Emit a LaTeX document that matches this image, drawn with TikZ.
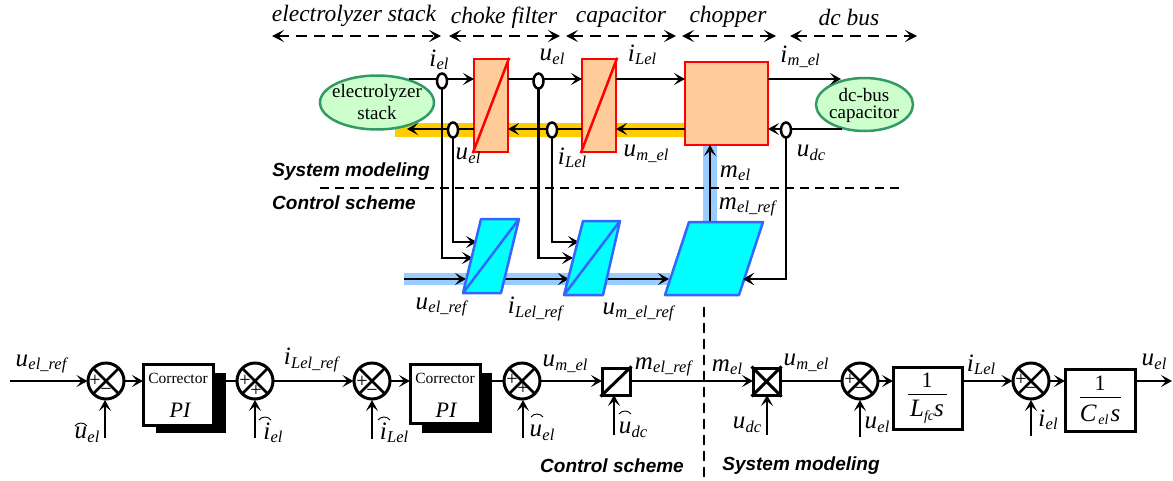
\documentclass[tikz,border=0pt]{standalone}
\usepackage{fontspec}
\setmainfont{Liberation Serif}
\setsansfont{Liberation Sans}
\usetikzlibrary{arrows.meta,shapes.geometric}
\newcommand{\fs}[1]{\fontsize{#1}{#1}\selectfont}
\newcommand{\V}[2]{{\fs{25}\itshape #1\kern0.3pt\raisebox{-3.5pt}{\fs{16.5}#2}}}
\tikzset{
  tip/.style={-{Stealth[length=11pt,width=12pt,inset=5pt]}},
  dtip/.style={{Stealth[length=12pt,width=12pt,inset=5.5pt]}-{Stealth[length=12pt,width=12pt,inset=5.5pt]},dash pattern=on 11pt off 7pt},
  wire/.style={line width=2.5pt,black},
  band/.style={line width=14pt},
  redblk/.style={draw=red,fill=redfill,line width=2.5pt},
  blueblk/.style={draw=blueedge,fill=cyanfill,line width=2.5pt,line join=round},
  greenell/.style={ellipse,draw=greenedge,fill=greenfill,line width=2.5pt,inner sep=0pt},
  greentxt/.style={inner sep=0pt,font=\fs{19}},
  sensor/.style={ellipse,draw=black,fill=white,line width=2.5pt,minimum width=10pt,minimum height=15pt,inner sep=0pt},
  sumnode/.style={circle,draw=black,fill=white,line width=3pt,minimum size=36pt,inner sep=0pt,
    path picture={\draw[line width=2.5pt] (path picture bounding box.north west)--(path picture bounding box.south east)
      (path picture bounding box.north east)--(path picture bounding box.south west);}},
  ctrlbox/.style={draw=black,fill=white,line width=3pt,inner sep=0pt},
  shadowbox/.style={fill=black,draw=none,inner sep=0pt,minimum width=70pt,minimum height=60pt},
  lbl/.style={inner sep=0pt,anchor=center},
  sign/.style={inner sep=0pt,font=\fs{20}},
  titletxt/.style={inner sep=0pt,font=\fs{23.5}\itshape},
  sectxt/.style={inner sep=0pt,font=\fs{19}\sffamily\bfseries\itshape},
}
\definecolor{redfill}{HTML}{FFCC99}
\definecolor{cyanfill}{HTML}{00FFFF}
\definecolor{blueedge}{HTML}{3366FF}
\definecolor{greenfill}{HTML}{CCFFCC}
\definecolor{greenedge}{HTML}{339966}
\definecolor{yband}{HTML}{FFCC00}
\definecolor{bband}{HTML}{99CCFF}
\begin{document}
\begin{tikzpicture}[x=1pt,y=-1pt]
\useasboundingbox (0,0) rectangle (1173,480);
% section titles and extent arrows
\node[titletxt] (t1) at (354,16) {electrolyzer stack};
\node[titletxt] (t2) at (504,18) {choke filter};
\node[titletxt] (t3) at (621,17) {capacitor};
\node[titletxt] (t4) at (728,17) {chopper};
\node[titletxt] (t5) at (849,17) {dc bus};
\foreach \n/\a/\b in {1/272/441,2/449/560,3/566/676,4/682/776,5/790/917}{
  \coordinate (dl\n) at (\a,36); \coordinate (dr\n) at (\b,36);
  \draw[wire,dtip] (dl\n) -- (dr\n);
}
% colour bands
\coordinate (yl) at (395,130); \coordinate (yr) at (685,130);
\draw[band,yband] (yl) -- (yr);
\coordinate (bvb) at (710,222); \coordinate (bvt) at (710,145);
\draw[band,bband] (bvb) -- (bvt);
\coordinate (bl) at (404,279); \coordinate (br) at (670,279);
\draw[line width=12pt,bband] (bl) -- (br);
% separator
\coordinate (sepl) at (320,188); \coordinate (sepr) at (903,188);
\draw[line width=1.8pt,dash pattern=on 9pt off 6pt] (sepl) -- (sepr);
\coordinate (vsept) at (704,307); \coordinate (vsepb) at (704,480);
\draw[line width=2pt,dash pattern=on 10pt off 6pt] (vsept) -- (vsepb);
% coordinates of top row ports
\coordinate (w0) at (409,79);
\coordinate (b1w) at (474,79); \coordinate (b1e) at (508,79);
\coordinate (b2w) at (582,79); \coordinate (b2e) at (616,79);
\coordinate (cw) at (685,79); \coordinate (ce) at (768,79);
\coordinate (de) at (841,79);
\coordinate (lw0) at (407,129);
\coordinate (lb1w) at (474,129); \coordinate (lb1e) at (508,129);
\coordinate (lb2w) at (582,129); \coordinate (lb2e) at (616,129);
\coordinate (lcw) at (685,129); \coordinate (lce) at (768,129);
\coordinate (lde) at (842,129);
% sensors' leads
\coordinate (s1) at (442,81); \coordinate (s2) at (453,130);
\coordinate (s3) at (538.5,81); \coordinate (s4) at (552,130); \coordinate (s5) at (786,130);
\coordinate (p1a) at (473,258); \coordinate (p1b) at (477,242);
\coordinate (p2a) at (573,258); \coordinate (p2b) at (579,242);
\coordinate (p3r) at (743,279);
\draw[wire,tip] (s1) |- (p1a);
\draw[wire,tip] (s2) |- (p1b);
\draw[wire,tip] (s3) |- (p2a);
\draw[wire,tip] (s4) |- (p2b);
\draw[wire,tip] (s5) |- (p3r);
\coordinate (r1) at (466,279); \coordinate (r2a) at (501,279); \coordinate (r2) at (569,279);
\coordinate (r3a) at (603,279); \coordinate (r3) at (669,279); \coordinate (r0) at (404,279);
\draw[wire,tip] (r0) -- (r1);
\draw[wire,tip] (r2a) -- (r2);
\draw[wire,tip] (r3a) -- (r3);
% red blocks
\node[redblk,minimum width=34pt,minimum height=93pt,inner sep=0pt] (blk1) at (491,105.5) {};
\draw[red,line width=2.5pt] (blk1.south west) -- (blk1.north east);
\node[redblk,minimum width=34pt,minimum height=93pt,inner sep=0pt] (blk2) at (599,105.5) {};
\draw[red,line width=2.5pt] (blk2.south west) -- (blk2.north east);
\node[redblk,minimum width=83pt,minimum height=83pt,inner sep=0pt] (chop) at (726.5,103.5) {};
% ellipses
\node[greenell,minimum width=114pt,minimum height=54pt] (es) at (377,102.5) {};
\node[greentxt] (es1) at (377,92.5) {electrolyzer};
\node[greentxt] (es2) at (377,112.5) {stack};
\node[greenell,minimum width=97pt,minimum height=53pt] (dc) at (864.5,104.5) {};
\node[greentxt] (dc1) at (864,94.5) {dc-bus};
\node[greentxt] (dc2) at (864,114) {capacitor};
% connectors of the power row
\draw[wire,tip] (w0) -- (b1w);
\draw[wire,tip] (b1e) -- (b2w);
\draw[wire,tip] (b2e) -- (cw);
\draw[wire,tip] (ce) -- (de);
\draw[wire,tip] (lcw) -- (lb2e);
\draw[wire,tip] (lb2w) -- (lb1e);
\draw[wire,tip] (lb1w) -- (lw0);
\draw[wire,tip] (lde) -- (lce);
\draw[wire,tip] (bvb) -- (bvt);
% sensors
\foreach \s in {1,...,5}{\node[sensor] (sn\s) at (s\s) {};}
% blue blocks
\draw[blueblk] (481,219) -- (519,219) -- (501,293) -- (463,293) -- cycle (463,293) -- (519,219);
\draw[blueblk] (583,221) -- (620,221) -- (603,295) -- (564,295) -- cycle (564,295) -- (620,221);
\draw[blueblk] (689,222) -- (763,222) -- (739,295) -- (665,295) -- cycle;
% re-draw tips over the blue edges
\draw[wire,tip] (s5 |- p3r) -- (p3r);
% top labels
\node[lbl] (l1) at (439,60) {\V{i}{el}};
\node[lbl] (l2) at (552,57) {\V{u}{el}};
\node[lbl] (l3) at (642,55) {\V{i}{Lel}};
\node[lbl] (l4) at (800,57) {\V{i}{m\_el}};
\node[lbl] (l5) at (468,156) {\V{u}{el}};
\node[lbl] (l6) at (572,158) {\V{i}{Lel}};
\node[lbl] (l7) at (646,154) {\V{u}{m\_el}};
\node[lbl] (l8) at (811,153) {\V{u}{dc}};
\node[lbl] (l9) at (735,173) {\V{m}{el}};
\node[lbl] (l10) at (747,207) {\V{m}{el\_ref}};
\node[lbl] (l11) at (441,307) {\V{u}{el\_ref}};
\node[lbl] (l12) at (535,309) {\V{i}{Lel\_ref}};
\node[lbl] (l13) at (638,312) {\V{u}{m\_el\_ref}};
\node[sectxt] (sm1) at (351,172) {System modeling};
\node[sectxt] (cs1) at (344,203) {Control scheme};
% bottom row nodes
\node[shadowbox] (sh1) at (191,403) {};
\node[shadowbox] (sh2) at (457,403) {};
\node[ctrlbox,minimum width=70pt,minimum height=61pt] (cor1) at (178,394.5) {};
\node[ctrlbox,minimum width=70pt,minimum height=59pt] (cor2) at (445.5,394) {};
\node[inner sep=0pt,font=\fs{15.5}] (ct1) at (178,378) {Corrector};
\node[inner sep=0pt,font=\fs{15.5}] (ct2) at (445,378) {Corrector};
\node[inner sep=0pt,font=\fs{22}\itshape] (pi1) at (180,410) {PI};
\node[inner sep=0pt,font=\fs{22}\itshape] (pi2) at (446,410) {PI};
\node[ctrlbox,minimum width=28pt,minimum height=27pt] (conv) at (616,381.5) {};
\draw[line width=3pt] (conv.south west) -- (conv.north east);
\node[ctrlbox,minimum width=27pt,minimum height=27pt] (mult) at (766.5,381.5) {};
\draw[line width=3pt] (mult.south west) -- (mult.north east) (mult.north west) -- (mult.south east);
\node[ctrlbox,minimum width=69pt,minimum height=62pt] (lfc) at (927.5,398) {};
\node[ctrlbox,minimum width=70pt,minimum height=62pt] (cel) at (1100,400) {};
\foreach \n/\x in {1/106,2/255,3/372,4/522,5/860,6/1031}{\coordinate (pos\n) at (\x,381);}
\coordinate (start) at (10,381); \coordinate (end) at (1172,381);
\coordinate (cor1in) at (143,381); \coordinate (cor2in) at (410,381);
\coordinate (m1) at (893,381); \coordinate (m2) at (1065,381);
\coordinate (c1e) at (1135,381);
% signal wires
\coordinate (a1) at (87.5,381); \coordinate (a3) at (353.5,381); \coordinate (a6) at (1012.5,381);
\draw[wire,tip] (start) -- (a1);
\draw[wire,tip] (pos1) -- (cor1in);
\draw[wire] (sh1.east |- pos2) -- (pos2);
\draw[wire,tip] (pos2) -- (a3);
\draw[wire,tip] (pos3) -- (cor2in);
\draw[wire] (sh2.east |- pos4) -- (pos4);
\coordinate (convin) at (602,381); \coordinate (multin) at (753,381);
\draw[wire,tip] (pos4) -- (convin);
\draw[wire,tip] (conv.east |- pos4) -- (multin);
\draw[wire] (mult.east |- pos4) -- (pos5);
\draw[wire,tip] (pos5) -- (m1);
\draw[wire,tip] (m1 -| lfc.east) -- (a6);
\draw[wire,tip] (pos6) -- (m2);
\draw[wire,tip] (c1e) -- (end);
% feeds
\foreach \n/\x/\yb/\yt in {1/105/438/400,2/255/438/400,3/372/439/400,4/523/438/400,5/614/435/395,6/767/435/395,7/860/437/400,8/1031/436/400}{
  \coordinate (fb\n) at (\x,\yb); \coordinate (ft\n) at (\x,\yt);
  \draw[wire,tip] (fb\n) -- (ft\n);
}
% summing junctions
\foreach \n in {1,...,6}{\node[sumnode] (sum\n) at (pos\n) {};}
% signs
\node[sign] (sa1) at (95,381) {+}; \node[sign] (sb1) at (106,392) {−};
\node[sign] (sa2) at (245,381) {+}; \node[sign] (sb2) at (256,391) {+};
\node[sign] (sa3) at (362,382) {+}; \node[sign] (sb3) at (372,393) {−};
\node[sign] (sa4) at (512,380) {+}; \node[sign] (sb4) at (523,389) {+};
\node[sign] (sa5) at (850,380) {+}; \node[sign] (sb5) at (860,391) {−};
\node[sign] (sa6) at (1021,380) {+}; \node[sign] (sb6) at (1031,391) {−};
% fractions
\node[inner sep=0pt,font=\fs{22}] (f1) at (927,380) {1};
\coordinate (f1l) at (908,394); \coordinate (f1r) at (947,394);
\draw[line width=1pt] (f1l) -- (f1r);
\node[inner sep=0pt] (f1d) at (927,412) {{\fs{25}\itshape L\raisebox{-3.5pt}{\fs{14}fc}s}};
\node[inner sep=0pt,font=\fs{22}] (f2) at (1100,383) {1};
\coordinate (f2l) at (1080,397); \coordinate (f2r) at (1121,397);
\draw[line width=1pt] (f2l) -- (f2r);
\node[inner sep=0pt] (f2d) at (1100,415) {{\fs{25}\itshape C\kern2pt\raisebox{-3.5pt}{\fs{14}el}\kern2pt s}};
% bottom labels
\node[lbl] (q1) at (41,364) {\V{u}{el\_ref}};
\node[lbl] (q2) at (87,435) {\V{u}{el}};
\node[lbl] (q3) at (311,360) {\V{i}{Lel\_ref}};
\node[lbl] (q4) at (273,433) {\V{i}{el}};
\node[lbl] (q5) at (394,433) {\V{i}{Lel}};
\node[lbl] (q6) at (565,364) {\V{u}{m\_el}};
\node[lbl] (q7) at (663,367) {\V{m}{el\_ref}};
\node[lbl] (q8) at (727,367) {\V{m}{el}};
\node[lbl] (q9) at (806,363) {\V{u}{m\_el}};
\node[lbl] (q10) at (542,433) {\V{u}{el}};
\node[lbl] (q11) at (633,430) {\V{u}{dc}};
\node[lbl] (q12) at (747,425) {\V{u}{dc}};
\node[lbl] (q13) at (877,425) {\V{u}{el}};
\node[lbl] (q14) at (981,365) {\V{i}{Lel}};
\node[lbl] (q15) at (1048,420) {\V{i}{el}};
\node[lbl] (q16) at (1154,362) {\V{u}{el}};
\node[sectxt] (cs2) at (612,466) {Control scheme};
\node[sectxt] (sm2) at (801,466) {System modeling};
% estimate arcs
\foreach \x/\y in {81/423,265/417,384/417,537/414,625/411}{
  \draw[line width=0.9pt] (\x-6,\y+3) .. controls (\x-3,\y-1) and (\x+3,\y-1) .. (\x+6,\y+3);
}
\end{tikzpicture}
\end{document}
